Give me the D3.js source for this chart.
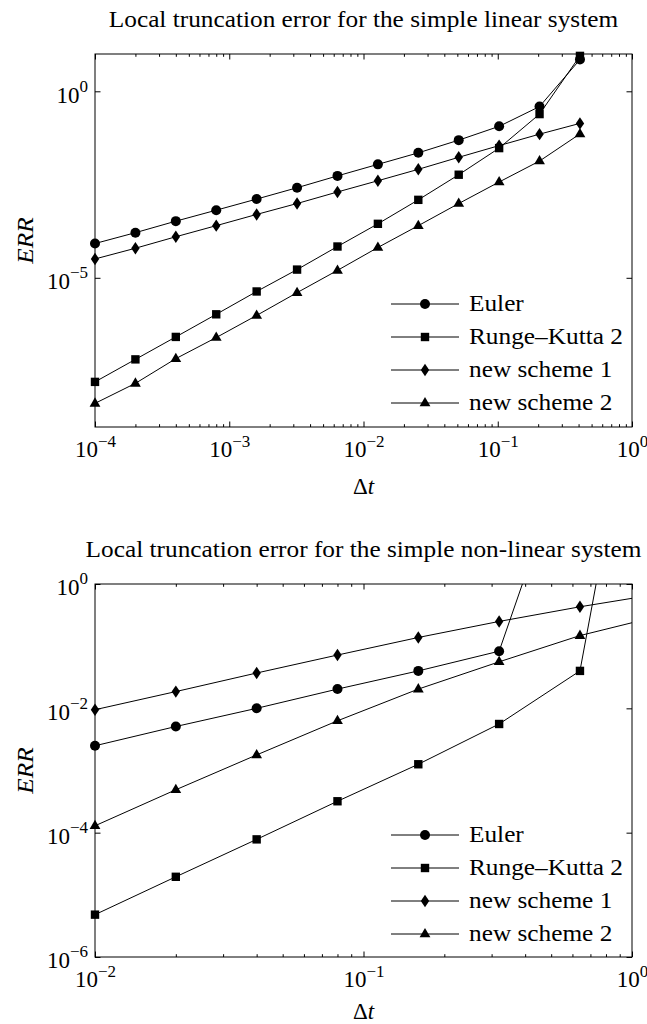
<!DOCTYPE html>
<html>
<head>
<meta charset="utf-8">
<script src="https://cdn.jsdelivr.net/npm/d3@7"></script>
<style>
  body { margin: 0; background: #fff; }
  text { font-family: "Liberation Serif", "Times New Roman", serif; fill: #000; }
</style>
</head>
<body>
<svg id="fig" width="647" height="1024"></svg>
<script>
// ---- data ---------------------------------------------------------------
const seriesNames = ["Euler", "Runge–Kutta 2", "new scheme 1", "new scheme 2"];

const linearTitle = "Local truncation error for the simple linear system";
const nonlinearTitle = "Local truncation error for the simple non-linear system";

// time steps (halved each refinement)
const linearDt = [1e-4, 2e-4, 4e-4, 8e-4, 1.6e-3, 3.2e-3, 6.4e-3, 1.28e-2, 2.56e-2, 5.12e-2, 0.1024, 0.2048, 0.4096];
const linearEuler = [8.3e-5, 1.62e-4, 3.3e-4, 6.5e-4, 1.29e-3, 2.6e-3, 5.4e-3, 1.1e-2, 2.24e-2, 4.9e-2, 0.115, 0.39, 7.1];
const linearRK2   = [1.62e-8, 6.5e-8, 2.6e-7, 1.05e-6, 4.3e-6, 1.66e-5, 6.9e-5, 2.8e-4, 1.23e-3, 5.8e-3, 3.0e-2, 0.245, 8.9];
const linearNew1  = [3.2e-5, 6.2e-5, 1.26e-4, 2.5e-4, 5.0e-4, 9.8e-4, 2.0e-3, 4.0e-3, 8.1e-3, 1.7e-2, 3.5e-2, 7.1e-2, 0.138];
const linearNew2  = [4.3e-9, 1.48e-8, 6.8e-8, 2.5e-7, 9.8e-7, 4.0e-6, 1.58e-5, 6.5e-5, 2.5e-4, 9.8e-4, 3.7e-3, 1.35e-2, 7.2e-2];

const nonlinearDt = [0.01, 0.02, 0.04, 0.08, 0.16, 0.32, 0.64, 1.28];
const nonlinearEuler = [2.5e-3, 5.1e-3, 1.0e-2, 2.04e-2, 4.0e-2, 8.3e-2, 470, null];
const nonlinearRK2   = [4.8e-6, 1.95e-5, 7.8e-5, 3.2e-4, 1.26e-3, 5.6e-3, 4.0e-2, 4e5];
const nonlinearNew1  = [9.5e-3, 1.86e-2, 3.7e-2, 7.2e-2, 0.138, 0.25, 0.43, 0.70];
const nonlinearNew2  = [1.29e-4, 4.9e-4, 1.78e-3, 6.3e-3, 2.04e-2, 5.6e-2, 0.148, 0.31];

// axis ticks
const linearXTicks = [1e-4, 1e-3, 1e-2, 1e-1, 1];
const linearYTicks = [1e-5, 1];
const nonlinearXTicks = [1e-2, 1e-1, 1];
const nonlinearYTicks = [1e-6, 1e-4, 1e-2, 1];

// ---- marker shapes --------------------------------------------------------
const markerShapes = [
  { draw(ctx) { ctx.moveTo(5, 0); ctx.arc(0, 0, 5, 0, 2 * Math.PI); } },               // circle
  { draw(ctx) { ctx.rect(-4.2, -4.2, 8.4, 8.4); } },                                     // square
  { draw(ctx) { ctx.moveTo(0, -6.2); ctx.lineTo(4.2, 0); ctx.lineTo(0, 6.2); ctx.lineTo(-4.2, 0); ctx.closePath(); } }, // diamond
  { draw(ctx) { ctx.moveTo(0, -6); ctx.lineTo(5.4, 3.3); ctx.lineTo(-5.4, 3.3); ctx.closePath(); } }  // triangle
];

const svg = d3.select("#fig");
const STRETCH = 1.1;
const FONT = 23;

function stretch(sel) {
  sel.each(function () {
    const len = this.getComputedTextLength();
    d3.select(this).attr("textLength", len * STRETCH).attr("lengthAdjust", "spacingAndGlyphs");
  });
}

function expLabel(d) {
  const e = Math.round(Math.log10(d));
  return e < 0 ? "\u2212" + (-e) : String(e);
}

function panel(cfg) {
  const { left, right, top, bottom } = cfg;
  const x = d3.scaleLog().domain(cfg.xDomain).range([left, right]);
  const y = d3.scaleLog().domain(cfg.yDomain).range([bottom, top]);
  const g = svg.append("g");

  const clipId = "clip" + cfg.id;
  g.append("clipPath").attr("id", clipId)
    .append("rect").attr("x", left).attr("y", top).attr("width", right - left).attr("height", bottom - top);

  // title
  g.append("text").attr("x", (left + right) / 2).attr("y", cfg.titleY)
    .attr("text-anchor", "middle").attr("font-size", FONT).text(cfg.title).call(stretch);

  // minor + major x ticks, bottom and top, pointing inward
  const minor = x.ticks().filter(v => Math.abs(Math.log10(v) - Math.round(Math.log10(v))) > 1e-9);
  const addAxis = (axis, tx, ty) => {
    const a = g.append("g").attr("transform", `translate(${tx},${ty})`).attr("color", "#000").call(axis);
    a.select(".domain").remove();
    a.selectAll("line").attr("stroke-width", 1);
    return a;
  };
  addAxis(d3.axisBottom(x).tickValues(minor).tickSize(-2.8).tickFormat(() => ""), 0, bottom);
  addAxis(d3.axisTop(x).tickValues(minor).tickSize(-2.8).tickFormat(() => ""), 0, top);
  addAxis(d3.axisTop(x).tickValues(cfg.xTicks).tickSize(-5.5).tickFormat(() => ""), 0, top);
  const xb = addAxis(d3.axisBottom(x).tickValues(cfg.xTicks).tickSize(-5.5).tickFormat(() => ""), 0, bottom);
  xb.selectAll(".tick text").each(function (d) {
    const t = d3.select(this).attr("y", 30).attr("dy", null).attr("font-size", FONT);
    t.append("tspan").text("10");
    t.append("tspan").attr("dy", -10.5).attr("font-size", 17).text(expLabel(d));
  });

  // y ticks on both sides
  addAxis(d3.axisRight(y).tickValues(cfg.yTicks).tickSize(-5.5).tickFormat(() => ""), right, 0);
  const yl = addAxis(d3.axisLeft(y).tickValues(cfg.yTicks).tickSize(-5.5).tickFormat(() => ""), left, 0);
  yl.selectAll(".tick text").each(function (d) {
    const t = d3.select(this).attr("x", -7).attr("dy", 10.7).attr("font-size", FONT).attr("text-anchor", "end");
    t.append("tspan").text("10");
    t.append("tspan").attr("dy", -11).attr("font-size", 17).text(expLabel(d));
  });

  // series lines
  const line = d3.line().defined(d => d[1] != null).x(d => x(d[0])).y(d => y(d[1]));
  cfg.series.forEach((vals, i) => {
    const pts = cfg.dt.map((t, k) => [t, vals[k]]);
    g.append("path").datum(pts).attr("clip-path", `url(#${clipId})`)
      .attr("fill", "none").attr("stroke", "#000").attr("stroke-width", 1).attr("d", line);
    const inside = pts.filter(p => p[1] != null &&
      p[0] >= cfg.xDomain[0] && p[0] <= cfg.xDomain[1] && p[1] >= cfg.yDomain[0] && p[1] <= cfg.yDomain[1]);
    g.selectAll(null).data(inside).join("path")
      .attr("transform", p => `translate(${x(p[0])},${y(p[1])})`)
      .attr("d", d3.symbol().type(markerShapes[i]))
      .attr("fill", "#000");
  });

  // frame
  g.append("rect").attr("x", left).attr("y", top).attr("width", right - left).attr("height", bottom - top)
    .attr("fill", "none").attr("stroke", "#000").attr("stroke-width", 1);

  // axis labels
  const xl = g.append("text").attr("x", (left + right) / 2).attr("y", cfg.xLabelY)
    .attr("text-anchor", "middle").attr("font-size", FONT);
  xl.append("tspan").text("\u0394");
  xl.append("tspan").attr("font-style", "italic").text("t");
  g.append("text").attr("transform", `translate(33,${(top + bottom) / 2}) rotate(-90)`)
    .attr("text-anchor", "middle").attr("font-size", FONT).attr("font-style", "italic").text("ERR").call(stretch);

  // legend
  const lg = g.append("g");
  seriesNames.forEach((name, i) => {
    const ly = cfg.legendY + i * 33;
    lg.append("line").attr("x1", 391).attr("x2", 459).attr("y1", ly).attr("y2", ly)
      .attr("stroke", "#000").attr("stroke-width", 1);
    lg.append("path").attr("transform", `translate(425,${ly})`)
      .attr("d", d3.symbol().type(markerShapes[i])).attr("fill", "#000");
    lg.append("text").attr("x", 469).attr("y", ly + 7).attr("font-size", FONT).text(name).call(stretch);
  });
}

panel({
  id: "lin", left: 95, right: 632, top: 54, bottom: 427,
  xDomain: [1e-4, 1], yDomain: [1e-9, 10],
  xTicks: linearXTicks, yTicks: linearYTicks,
  title: linearTitle, titleY: 27, xLabelY: 494, legendY: 304,
  dt: linearDt, series: [linearEuler, linearRK2, linearNew1, linearNew2]
});

panel({
  id: "nonlin", left: 95, right: 632, top: 584, bottom: 957,
  xDomain: [1e-2, 1], yDomain: [1e-6, 1],
  xTicks: nonlinearXTicks, yTicks: nonlinearYTicks,
  title: nonlinearTitle, titleY: 557, xLabelY: 1019, legendY: 835,
  dt: nonlinearDt, series: [nonlinearEuler, nonlinearRK2, nonlinearNew1, nonlinearNew2]
});
</script>
</body>
</html>
